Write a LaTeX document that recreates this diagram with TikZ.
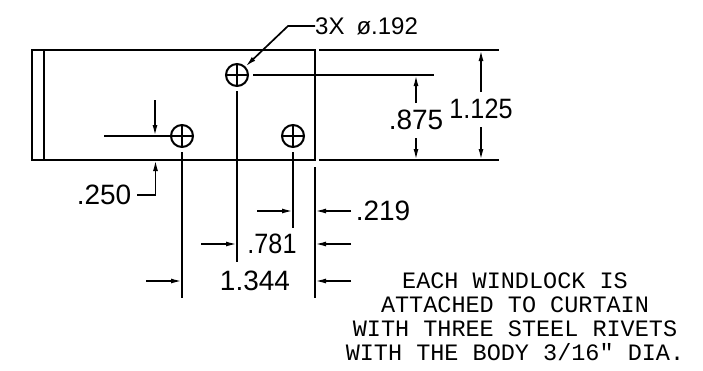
\documentclass[tikz,border=0pt]{standalone}
\usepackage{fontspec}
\setmainfont{Liberation Sans}
\newfontfamily\notefont{Liberation Mono}
\usetikzlibrary{arrows.meta}
\tikzset{
  part/.style={line width=2pt},
  extline/.style={line width=1.7pt},
  dimarrow/.style={line width=1.7pt, ->},
  hole/.style={circle, draw, line width=2pt, minimum size=22pt, inner sep=0pt,
    path picture={
      \draw[line width=1.7pt] (path picture bounding box.north) -- (path picture bounding box.south);
      \draw[line width=1.7pt] (path picture bounding box.west) -- (path picture bounding box.east);
    }},
  dimtext/.style={inner sep=0pt, font=\fontsize{28}{28}\selectfont},
  narrowdim/.style={inner sep=0pt, font=\addfontfeature{FakeStretch=.9}\fontsize{28}{28}\selectfont},
  calltext/.style={inner sep=0pt, font=\fontsize{24}{24}\selectfont},
  notetext/.style={inner sep=0pt, align=center, font=\notefont\fontsize{23.5}{24}\selectfont}
}
\begin{document}
\begin{tikzpicture}[>={Latex[length=11pt,width=5pt]}, x=1pt, y=-1pt]
  \useasboundingbox (0,0) rectangle (703,370);
  % part outline
  \draw[part] (32,50) rectangle (315,160);
  \draw[part] (44,50) -- (44,160);

  % holes
  \node[hole] (holeT) at (237,75) {};
  \node[hole] (holeL) at (182,136) {};
  \node[hole] (holeR) at (293,136) {};

  % callout
  \node[calltext, anchor=west] (callout) at (315,26) {3X\hspace{12pt}ø.192};
  \coordinate (knee) at (288,26);
  \draw[extline, ->] (callout.west) -- (knee) -- (holeT.north east);

  % extension lines, right side
  \draw[extline] (319,50) -- (499,50);
  \draw[extline] (319,160) -- (499,160);
  \draw[extline] (holeT.east) ++(4,0) -- (434,75);
  % extension lines, below
  \draw[extline] (holeT.south) ++(0,4) -- (237,262);
  \draw[extline] (holeL.south) ++(0,4) -- (182,298);
  \draw[extline] (holeR.south) ++(0,4) -- (293,228);
  \draw[part] (315,167) -- (315,298);
  \draw[extline] (holeL.west) -- (104,136);

  % .875 and 1.125
  \node[dimtext] (dimA) at (416,120) {.875};
  \node[narrowdim] (dimB) at (481,109) {1.125};
  \draw[dimarrow] (416,103) -- (416,75);
  \draw[dimarrow] (416,138) -- (416,160);
  \draw[dimarrow] (481,92) -- (481,50);
  \draw[dimarrow] (481,127) -- (481,160);

  % .250
  \node[dimtext] (dimC) at (104,195) {.250};
  \draw[dimarrow] (155,100) -- (155,136);
  \draw[dimarrow] (dimC.east) ++(6,0) -- (155.5,195) -- (155.5,160);

  % horizontal dimensions
  \node[dimtext] (dimD) at (383,211) {.219};
  \node[narrowdim] (dimE) at (272,244) {.781};
  \node[dimtext] (dimF) at (255,281) {1.344};
  \draw[dimarrow] (257,211) -- (293,211);
  \draw[dimarrow] (351,211) -- (315,211);
  \draw[dimarrow] (201,244) -- (237,244);
  \draw[dimarrow] (351,244) -- (315,244);
  \draw[dimarrow] (146,281) -- (182,281);
  \draw[dimarrow] (351,281) -- (315,281);

  % note
  \node[notetext] (note) at (515,317) {EACH WINDLOCK IS\\ATTACHED TO CURTAIN\\WITH THREE STEEL RIVETS\\WITH THE BODY 3/16" DIA.};
\end{tikzpicture}
\end{document}
